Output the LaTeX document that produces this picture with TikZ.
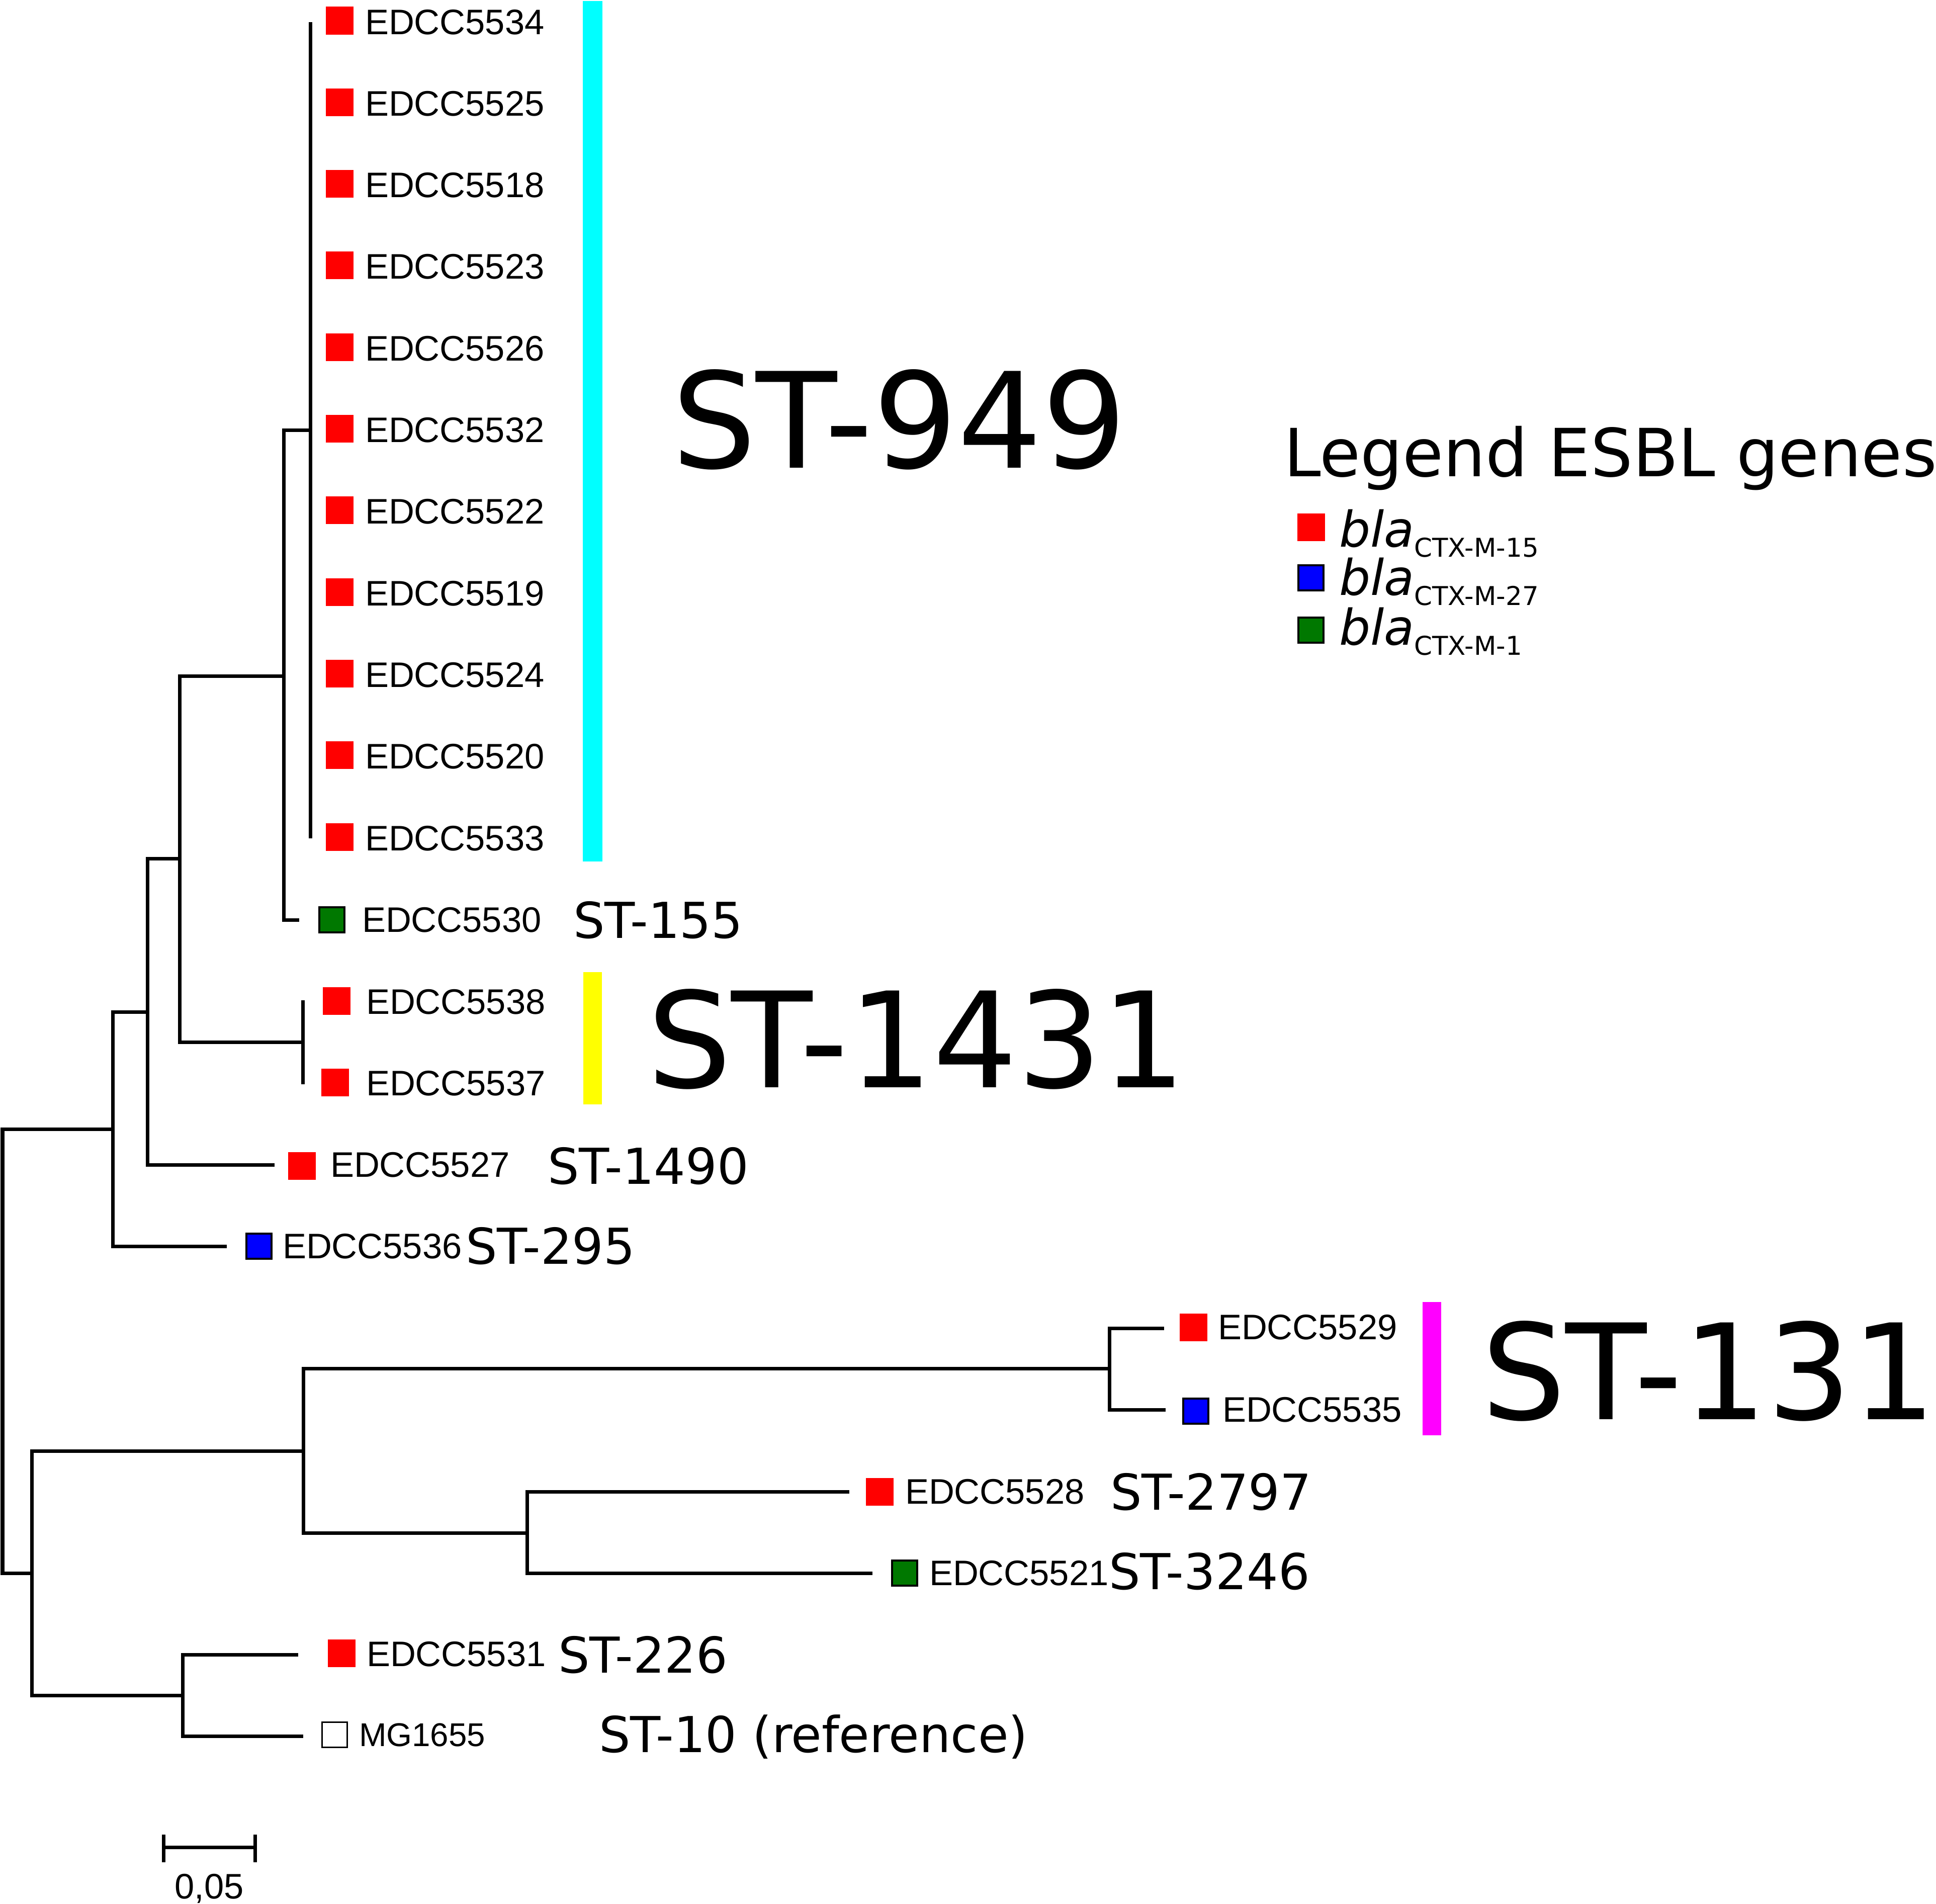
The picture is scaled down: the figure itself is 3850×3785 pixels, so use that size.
\documentclass[tikz,border=0pt]{standalone}
\usepackage{fontspec}
\setmainfont{Liberation Sans}
\newfontfamily\dejavu{DejaVu Sans}
\definecolor{myred}{RGB}{255,0,0}
\definecolor{myblue}{RGB}{0,0,255}
\definecolor{mygreen}{RGB}{0,120,0}
\definecolor{mycyan}{RGB}{0,255,255}
\definecolor{myyellow}{RGB}{255,255,0}
\definecolor{mymagenta}{RGB}{255,0,255}
\begin{document}
\begin{tikzpicture}[x=0.2pt,y=-0.2pt,
  br/.style={line width=1.4pt},
  sq/.style={minimum size=11pt, inner sep=0pt, outer sep=0pt},
  redsq/.style={sq, fill=myred},
  bluesq/.style={sq, fill=myblue, draw=black, line width=0.8pt, minimum size=10pt},
  greensq/.style={sq, fill=mygreen, draw=black, line width=0.8pt, minimum size=10pt},
  emptysq/.style={sq, fill=white, draw=black, line width=0.6pt, minimum size=10pt},
  lab/.style={font=\fontsize{14.1}{16}\selectfont, inner sep=0pt, anchor=base west},
  stlab/.style={font=\dejavu\fontsize{19.7}{22}\selectfont, inner sep=0pt, anchor=base west},
  biglab/.style={font=\dejavu\fontsize{52.8}{60}\selectfont, inner sep=0pt, anchor=base west},
  legbla/.style={font=\dejavu\fontsize{19.6}{22}\selectfont, inner sep=0pt, anchor=base west},
]
\useasboundingbox (0,0) rectangle (3850,3785);

% ---------- internal nodes ----------
\coordinate (R) at (5,2686);
\coordinate (D) at (224,2245);
\coordinate (C) at (293,2012);
\coordinate (B) at (357,1707);
\coordinate (A) at (564,1344);
\coordinate (N) at (617,855);
\coordinate (K) at (602,2072);
\coordinate (E) at (63,3128);
\coordinate (F) at (603,2885);
\coordinate (G) at (2206,2721);
\coordinate (H) at (1048,3048);
\coordinate (I) at (363,3371);

% leaf tips
\coordinate (p0) at (617,44);
\coordinate (p10) at (617,1667);
\coordinate (k0) at (602,1989);
\coordinate (k1) at (602,2156);
\coordinate (t11) at (595,1829);
\coordinate (t14) at (546,2316);
\coordinate (t15) at (451,2478);
\coordinate (t16) at (2315,2641);
\coordinate (t17) at (2318,2803);
\coordinate (t18) at (1689,2966);
\coordinate (t19) at (1735,3128);
\coordinate (t20) at (593,3290);
\coordinate (t21) at (603,3452);

% ---------- branches ----------
\draw[br] (R) |- (D);
\draw[br] (R) |- (E);
\draw[br] (D) |- (C);
\draw[br] (D) |- (t15);
\draw[br] (C) |- (B);
\draw[br] (C) |- (t14);
\draw[br] (B) |- (A);
\draw[br] (B) |- (K);
\draw[br] (A) |- (N);
\draw[br] (A) |- (t11);
\draw[br] (p0) -- (p10);
\draw[br] (k0) -- (k1);
\draw[br] (E) |- (F);
\draw[br] (E) |- (I);
\draw[br] (F) |- (G);
\draw[br] (F) |- (H);
\draw[br] (G) |- (t16);
\draw[br] (G) |- (t17);
\draw[br] (H) |- (t18);
\draw[br] (H) |- (t19);
\draw[br] (I) |- (t20);
\draw[br] (I) |- (t21);

% ---------- ST-949 leaves ----------
\foreach \nm [count=\i from 0] in {5534,5525,5518,5523,5526,5532,5522,5519,5524,5520,5533} {
  \pgfmathsetmacro\yy{44+162.3*\i}
  \node[redsq] (s\i) at (675,\yy-3) {};
  \node[lab] (l\i) at (725,\yy+24) {EDCC\nm};
}

% ---------- other leaves ----------
\node[greensq] (s11) at (660,1829) {};
\node[lab] (l11) at (719,1853) {EDCC5530};
\node[redsq] (s12) at (669,1990) {};
\node[lab] (l12) at (727,2016) {EDCC5538};
\node[redsq] (s13) at (666,2152) {};
\node[lab] (l13) at (727,2178) {EDCC5537};
\node[redsq] (s14) at (600,2318) {};
\node[lab] (l14) at (656,2340) {EDCC5527};
\node[bluesq] (s15) at (515,2478) {};
\node[lab] (l15) at (561,2502) {EDCC5536};
\node[redsq] (s16) at (2373,2639) {};
\node[lab] (l16) at (2421,2663) {EDCC5529};
\node[bluesq] (s17) at (2378,2806) {};
\node[lab] (l17) at (2430,2827) {EDCC5535};
\node[redsq] (s18) at (1749,2966) {};
\node[lab] (l18) at (1799,2990) {EDCC5528};
\node[greensq] (s19) at (1799,3128) {};
\node[lab] (l19) at (1847,3152) {EDCC5521};
\node[redsq] (s20) at (679,3287) {};
\node[lab] (l20) at (728,3313) {EDCC5531};
\node[emptysq] (s21) at (665,3449) {};
\node[lab, font=\fontsize{13.1}{15}\selectfont] (l21) at (713,3472) {MG1655};

% ---------- ST labels ----------
\node[stlab] (st155) at (1139,1865) {ST-155};
\node[stlab] (st1490) at (1088,2354) {ST-1490};
\node[stlab] (st295) at (925,2513) {ST-295};
\node[stlab] (st2797) at (2207,3002) {ST-2797};
\node[stlab] (st3246) at (2204,3160) {ST-3246};
\node[stlab] (st226) at (1109,3326) {ST-226};
\node[stlab] (st10) at (1190,3484) {ST-10 (reference)};

\node[biglab] (st949) at (1335,930) {ST-949};
\node[biglab] (st1431) at (1286,2162) {ST-1431};
\node[biglab] (st131) at (2945,2822) {ST-131};

% ---------- clade bars ----------
\fill[mycyan] (1159,2) rectangle (1198,1713);
\fill[myyellow] (1160,1933) rectangle (1197,2196);
\fill[mymagenta] (2829,2589) rectangle (2866,2854);

% ---------- legend ----------
\node[font=\dejavu\fontsize{26.4}{30}\selectfont, inner sep=0pt, anchor=base west] (legtitle) at (2552,947) {Legend ESBL genes};
\node[redsq] (lg1) at (2607,1048) {};
\node[bluesq] (lg2) at (2607,1149) {};
\node[greensq] (lg3) at (2607,1253) {};
\node[legbla] (lt1) at (2662,1087) {\itshape bla\raisebox{-4pt}{\upshape\fontsize{10.3}{12}\selectfont CTX-M-15}};
\node[legbla] (lt2) at (2662,1183) {\itshape bla\raisebox{-4pt}{\upshape\fontsize{10.3}{12}\selectfont CTX-M-27}};
\node[legbla] (lt3) at (2662,1282) {\itshape bla\raisebox{-4pt}{\upshape\fontsize{10.3}{12}\selectfont CTX-M-1}};

% ---------- scale bar ----------
\coordinate (sb1) at (325,3673);
\coordinate (sb2) at (507,3673);
\draw[br] (sb1) -- (sb2);
\draw[br] ([yshift=5pt]sb1) -- ([yshift=-6pt]sb1);
\draw[br] ([yshift=5pt]sb2) -- ([yshift=-6pt]sb2);
\node[lab, anchor=base] (sblab) at (416,3775) {0,05};
\end{tikzpicture}
\end{document}
